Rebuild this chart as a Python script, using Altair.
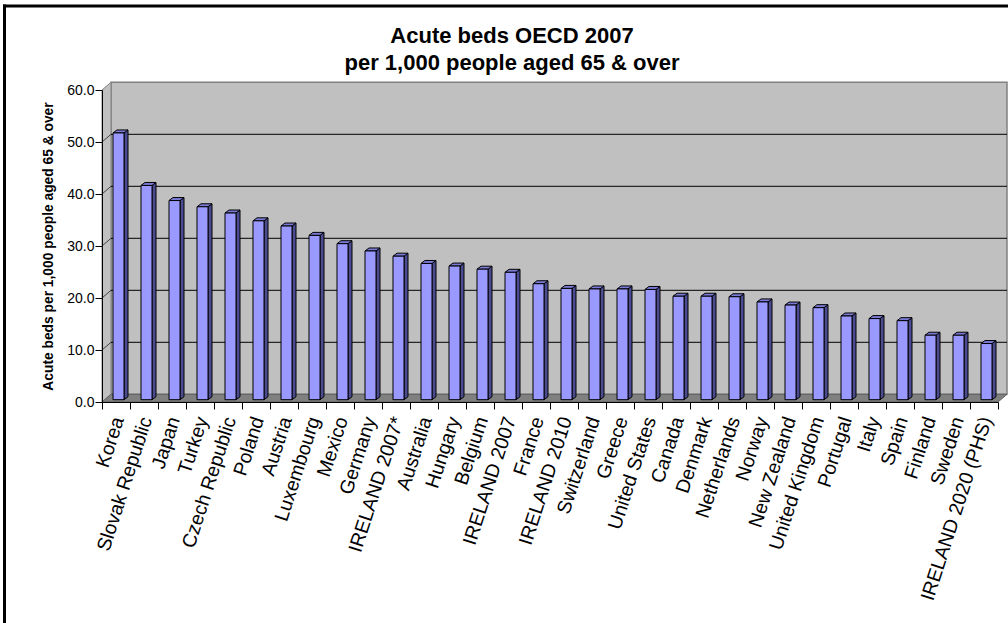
import json
import altair as alt
import pandas as pd

# Acute beds per 1,000 people aged 65 & over, OECD 2007
countries = [
    "Korea", "Slovak Republic", "Japan", "Turkey", "Czech Republic", "Poland",
    "Austria", "Luxembourg", "Mexico", "Germany", "IRELAND 2007*", "Australia",
    "Hungary", "Belgium", "IRELAND 2007", "France", "IRELAND 2010", "Switzerland",
    "Greece", "United States", "Canada", "Denmark", "Netherlands", "Norway",
    "New Zealand", "United Kingdom", "Portugal", "Italy", "Spain", "Finland",
    "Sweden", "IRELAND 2020 (PHS)",
]
beds = [
    51.3, 41.2, 38.3, 37.1, 35.9, 34.4,
    33.4, 31.6, 30.0, 28.6, 27.6, 26.2,
    25.7, 25.1, 24.5, 22.3, 21.4, 21.3,
    21.3, 21.2, 19.9, 19.9, 19.8, 18.8,
    18.2, 17.7, 16.1, 15.6, 15.2, 12.4,
    12.4, 10.8,
]
y_ticks = [0, 10, 20, 30, 40, 50, 60]
grid_levels = [10, 20, 30, 40, 50]

FONT = "Liberation Sans"
W, H = 896, 312
N = len(countries)
Y_MAX = 60
STEP = W / N
ux = N / W          # category units per pixel
uy = Y_MAX / H      # value units per pixel

# pseudo-3D geometry (pixels)
WALL_DX, WALL_DY = 9, 7.7
BAR_SHIFT_X, BAR_SHIFT_Y = 2.5, 2.3
BAR_HALF = 5.5
BAR_DX, BAR_DY = 4, 3

WALL_FILL = "#c0c0c0"
WALL_EDGE = "#808080"
FLOOR_FILL = "#808080"
FRONT_FILL = "#9999ff"
TOP_FILL = "#7a7ad6"
SIDE_FILL = "#4b4b8f"

x_scale = alt.Scale(domain=[0, N], nice=False, zero=False)
y_scale = alt.Scale(domain=[0, Y_MAX], nice=False)

wdx, wdy = WALL_DX * ux, WALL_DY * uy

# walls and floor
back_df = pd.DataFrame([{"x": wdx, "x2": N + wdx, "y": wdy, "y2": Y_MAX + wdy}])
side_wall_df = pd.DataFrame([
    {"x": 0, "y": 0, "y2": Y_MAX},
    {"x": wdx, "y": wdy, "y2": Y_MAX + wdy},
])
floor_df = pd.DataFrame([
    {"x": 0, "y": 0, "y2": 0},
    {"x": wdx, "y": wdy, "y2": 0},
    {"x": N, "y": wdy, "y2": 0},
    {"x": N + wdx, "y": wdy, "y2": wdy},
])
grid_df = pd.DataFrame([
    {"x": wdx, "x2": N + wdx, "y": v + wdy, "y2": v + wdy} for v in grid_levels
])
side_grid_df = pd.DataFrame([
    {"x": 0, "x2": wdx, "y": v, "y2": v + wdy} for v in grid_levels
])

# bars: front faces, top faces and side faces
front_rows, top_rows, side_rows = [], [], []
bdx, bdy = BAR_DX * ux, BAR_DY * uy
for i, (name, v) in enumerate(zip(countries, beds)):
    cx = i + 0.5 + BAR_SHIFT_X * ux
    xl, xr = cx - BAR_HALF * ux, cx + BAR_HALF * ux
    yb = BAR_SHIFT_Y * uy
    yt = yb + v
    front_rows.append({"country": name, "beds": v, "x": xl, "x2": xr, "y": yt, "y2": yb})
    top_rows += [
        {"country": name, "x": xl, "y": yt, "y2": yt},
        {"country": name, "x": xl + bdx, "y": yt + bdy, "y2": yt},
        {"country": name, "x": xr, "y": yt + bdy, "y2": yt},
        {"country": name, "x": xr + bdx, "y": yt + bdy, "y2": yt + bdy},
    ]
    side_rows += [
        {"country": name, "x": xr, "y": yt, "y2": yb},
        {"country": name, "x": xr + bdx, "y": yt + bdy, "y2": yb + bdy},
    ]
front_df = pd.DataFrame(front_rows)
top_df = pd.DataFrame(top_rows)
side_df = pd.DataFrame(side_rows)

label_expr = "datum.value < {n} ? {arr}[datum.value] : ''".format(
    n=N, arr=json.dumps(countries)
)

x_axis = alt.Axis(
    values=list(range(N + 1)), labelExpr=label_expr, labelAngle=-72,
    labelAlign="right", labelBaseline="middle", labelOffset=STEP / 2 + 2,
    labelPadding=8, tickSize=7, tickColor="black", domainColor="black",
    labelFont=FONT, labelFontSize=19.5, labelColor="black", labelLimit=400,
    grid=False, title=None, labelOverlap=False, labelBound=False,
    labelFlush=False, zindex=1,
)
y_axis = alt.Axis(
    values=y_ticks, format=".1f", tickSize=7, labelPadding=1, labelFont=FONT,
    labelFontSize=14, labelColor="black", tickColor="black", domainColor="black",
    title="Acute beds per 1,000 people aged 65 & over", titleFont=FONT,
    titleFontSize=13.8, titleFontWeight="bold", titleColor="black",
    titleX=-54, titleY=H / 2, titleAngle=270, titleAlign="center",
    titleBaseline="middle", grid=False, zindex=1,
)


def xq(field="x"):
    return alt.X(f"{field}:Q", scale=x_scale, axis=x_axis)


def yq(field="y"):
    return alt.Y(f"{field}:Q", scale=y_scale, axis=y_axis)


back = alt.Chart(back_df).mark_rect(fill=WALL_FILL, stroke=WALL_EDGE, strokeWidth=1.5).encode(
    x=xq(), x2="x2:Q", y=yq(), y2="y2:Q"
)
side_wall = alt.Chart(side_wall_df).mark_area(fill=WALL_FILL, stroke=WALL_EDGE, strokeWidth=1).encode(
    x=xq(), y=yq(), y2="y2:Q"
)
floor = alt.Chart(floor_df).mark_area(fill=FLOOR_FILL, stroke="#606060", strokeWidth=1).encode(
    x=xq(), y=yq(), y2="y2:Q"
)
grid = alt.Chart(grid_df).mark_rule(color="black", strokeWidth=1).encode(
    x=xq(), x2="x2:Q", y=yq(), y2="y2:Q"
)
side_grid = alt.Chart(side_grid_df).mark_rule(color="#404040", strokeWidth=1).encode(
    x=xq(), x2="x2:Q", y=yq(), y2="y2:Q"
)
bar_side = alt.Chart(side_df).mark_area(fill=SIDE_FILL, stroke="black", strokeWidth=1).encode(
    x=xq(), y=yq(), y2="y2:Q", detail="country:N"
)
bar_top = alt.Chart(top_df).mark_area(fill=TOP_FILL, stroke="black", strokeWidth=1).encode(
    x=xq(), y=yq(), y2="y2:Q", detail="country:N"
)
bar_front = alt.Chart(front_df).mark_rect(fill=FRONT_FILL, stroke="black", strokeWidth=1).encode(
    x=xq(), x2="x2:Q", y=yq(), y2="y2:Q",
    tooltip=[alt.Tooltip("country:N"), alt.Tooltip("beds:Q", format=".1f")],
)
# outer frame of the chart area: left and top edges
frame_src = pd.DataFrame([{"f": 1}])
frame_left = alt.Chart(frame_src).mark_rule(color="black", strokeWidth=3).encode(
    x=alt.value(-97.5), y=alt.value(-85.5), y2=alt.value(H + 300)
)
frame_top = alt.Chart(frame_src).mark_rule(color="black", strokeWidth=3).encode(
    x=alt.value(-99), x2=alt.value(W + 40), y=alt.value(-84)
)

chart = alt.layer(
    back, side_wall, floor, side_grid, grid, bar_side, bar_top, bar_front,
    frame_left, frame_top,
).properties(
    width=W, height=H,
    title=alt.Title(
        ["Acute beds OECD 2007", "per 1,000 people aged 65 & over"],
        font=FONT, fontSize=22, fontWeight="bold", color="black",
        anchor="middle", dx=-38, dy=76, lineHeight=27,
    ),
    autosize=alt.AutoSizeParams(type="none"),
    padding={"left": 102, "top": 90, "right": 10, "bottom": 221},
).configure_view(stroke=None).configure(background="white")

chart.save("out.html", embed_options={"renderer": "svg", "actions": False})
